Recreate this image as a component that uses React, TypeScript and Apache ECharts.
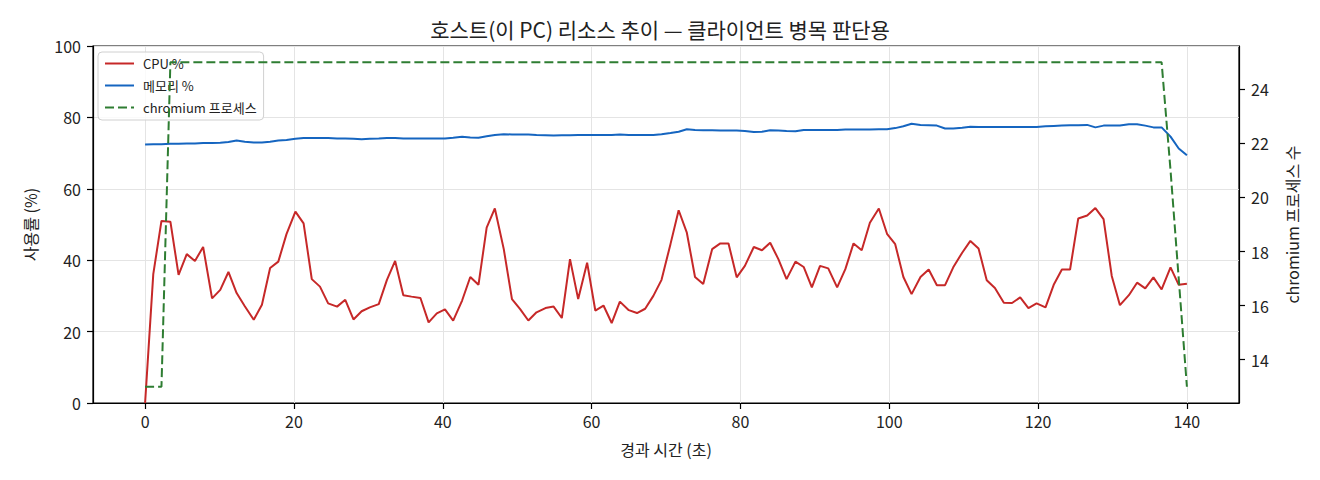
import React, { useEffect, useRef } from "react";
import * as echarts from "echarts";

const FONT = '"Noto Sans CJK KR", "Noto Sans", sans-serif';

// 경과 시간 (초) - 샘플 시각
const elapsed = [
  0, 1.1, 2.2, 3.4, 4.5, 5.6, 6.7, 7.8, 9.0, 10.1,
  11.2, 12.3, 13.4, 14.6, 15.7, 16.8, 17.9, 19.0, 20.2, 21.3,
  22.4, 23.5, 24.6, 25.8, 26.9, 28.0, 29.1, 30.2, 31.4, 32.5,
  33.6, 34.7, 35.8, 37.0, 38.1, 39.2, 40.3, 41.4, 42.6, 43.7,
  44.8, 45.9, 47.0, 48.2, 49.3, 50.4, 51.5, 52.6, 53.8, 54.9,
  56.0, 57.1, 58.2, 59.4, 60.5, 61.6, 62.7, 63.8, 65.0, 66.1,
  67.2, 68.3, 69.4, 70.6, 71.7, 72.8, 73.9, 75.0, 76.2, 77.3,
  78.4, 79.5, 80.6, 81.8, 82.9, 84.0, 85.1, 86.2, 87.4, 88.5,
  89.6, 90.7, 91.8, 93.0, 94.1, 95.2, 96.3, 97.4, 98.6, 99.7,
  100.8, 101.9, 103.0, 104.2, 105.3, 106.4, 107.5, 108.6, 109.8, 110.9,
  112.0, 113.1, 114.2, 115.4, 116.5, 117.6, 118.7, 119.8, 121.0, 122.1,
  123.2, 124.3, 125.4, 126.6, 127.7, 128.8, 129.9, 131.0, 132.2, 133.3,
  134.4, 135.5, 136.6, 137.8, 138.9, 140.0,
];

const cpuPct = [
  0, 36.1, 51.0, 50.8, 35.9, 41.7, 39.8, 43.7, 29.3, 31.7,
  36.7, 30.8, 27.1, 23.3, 27.5, 37.8, 39.6, 47.3, 53.6, 50.3,
  34.7, 32.6, 27.9, 27.0, 28.9, 23.4, 25.7, 26.8, 27.7, 34.5,
  39.8, 30.2, 29.8, 29.4, 22.6, 25.1, 26.2, 23.1, 28.7, 35.3,
  33.1, 49.1, 54.5, 43.1, 29.1, 26.3, 23.1, 25.4, 26.6, 27.0,
  23.8, 40.3, 29.1, 39.3, 25.9, 27.3, 22.4, 28.4, 26.0, 25.2,
  26.4, 30.0, 34.5, 44.5, 54.0, 47.7, 35.3, 33.3, 43.1, 44.7,
  44.7, 35.2, 38.4, 43.7, 42.8, 44.9, 40.3, 34.7, 39.6, 38.1,
  32.4, 38.4, 37.7, 32.4, 37.5, 44.7, 42.8, 50.5, 54.5, 47.4,
  44.5, 35.3, 30.5, 35.3, 37.4, 33.0, 33.0, 38.0, 42.1, 45.4,
  43.3, 34.4, 32.2, 28.1, 28.0, 29.6, 26.6, 27.9, 26.8, 33.1,
  37.4, 37.4, 51.7, 52.5, 54.6, 51.5, 35.6, 27.4, 30.2, 33.7,
  32.1, 35.2, 31.8, 38.0, 33.1, 33.4,
];

const memPct = [
  72.4, 72.5, 72.5, 72.6, 72.6, 72.7, 72.7, 72.8, 72.8, 72.9,
  73.1, 73.5, 73.2, 73.0, 73.0, 73.2, 73.5, 73.7, 74.0, 74.2,
  74.2, 74.2, 74.2, 74.1, 74.1, 74.0, 73.9, 74.0, 74.1, 74.2,
  74.2, 74.1, 74.1, 74.1, 74.1, 74.1, 74.1, 74.3, 74.6, 74.4,
  74.3, 74.7, 75.1, 75.3, 75.2, 75.2, 75.2, 75.1, 75.0, 74.9,
  75.0, 75.0, 75.1, 75.1, 75.1, 75.1, 75.1, 75.2, 75.1, 75.1,
  75.1, 75.1, 75.3, 75.6, 76.0, 76.7, 76.5, 76.4, 76.4, 76.3,
  76.3, 76.3, 76.2, 75.9, 76.0, 76.4, 76.3, 76.2, 76.1, 76.5,
  76.5, 76.5, 76.5, 76.5, 76.6, 76.6, 76.6, 76.6, 76.7, 76.7,
  77.0, 77.5, 78.2, 77.9, 77.8, 77.7, 76.9, 76.9, 77.1, 77.4,
  77.3, 77.3, 77.3, 77.3, 77.3, 77.3, 77.3, 77.3, 77.5, 77.6,
  77.7, 77.8, 77.8, 77.9, 77.2, 77.7, 77.7, 77.7, 78.1, 78.1,
  77.7, 77.2, 77.2, 74.6, 71.3, 69.4,
];

const chromiumCount = [
  13, 13, 13, 25, 25, 25, 25, 25, 25, 25,
  25, 25, 25, 25, 25, 25, 25, 25, 25, 25,
  25, 25, 25, 25, 25, 25, 25, 25, 25, 25,
  25, 25, 25, 25, 25, 25, 25, 25, 25, 25,
  25, 25, 25, 25, 25, 25, 25, 25, 25, 25,
  25, 25, 25, 25, 25, 25, 25, 25, 25, 25,
  25, 25, 25, 25, 25, 25, 25, 25, 25, 25,
  25, 25, 25, 25, 25, 25, 25, 25, 25, 25,
  25, 25, 25, 25, 25, 25, 25, 25, 25, 25,
  25, 25, 25, 25, 25, 25, 25, 25, 25, 25,
  25, 25, 25, 25, 25, 25, 25, 25, 25, 25,
  25, 25, 25, 25, 25, 25, 25, 25, 25, 25,
  25, 25, 25, 21, 17, 13,
];

const timeTicks = [0, 20, 40, 60, 80, 100, 120, 140];
const countTicks = [14, 16, 18, 20, 22, 24];

const pairs = (ys: number[]) => elapsed.map((t, i) => [t, ys[i]]);

export default function App() {
  const chartRef = useRef<HTMLDivElement>(null);

  useEffect(() => {
    if (!chartRef.current) return;
    const chart = echarts.init(chartRef.current, undefined, { renderer: "svg" });

    const ink = "#222";
    const spine = { show: true, onZero: false, lineStyle: { color: "#000", width: 1.2 } };
    const tick = { show: true, length: 6, lineStyle: { color: "#000", width: 1.2 } };
    const grid = { show: true, lineStyle: { color: "#e4e4e4", width: 1 } };
    const label = { color: ink, fontSize: 16, fontFamily: FONT };

    chart.setOption({
      animation: false,
      backgroundColor: "#fff",
      textStyle: { fontFamily: FONT },
      title: {
        text: "호스트(이 PC) 리소스 추이 — 클라이언트 병목 판단용",
        left: "center",
        top: 18,
        padding: 0,
        textStyle: { fontSize: 21, fontWeight: "normal", color: ink, fontFamily: FONT },
      },
      legend: {
        data: ["CPU %", "메모리 %", "chromium 프로세스"],
        orient: "vertical",
        left: 98,
        top: 52,
        z: 1,
        itemWidth: 29,
        itemHeight: 14,
        itemGap: 9,
        padding: [5, 7, 6, 6],
        backgroundColor: "rgba(255,255,255,0.8)",
        borderColor: "#d0d0d0",
        borderWidth: 1,
        borderRadius: 4,
        selectedMode: false,
        itemStyle: { opacity: 0 },
        textStyle: { fontSize: 13, color: ink, fontFamily: FONT, padding: [0, 0, 0, 4] },
      },
      grid: {
        left: 93,
        right: 81,
        top: 46,
        bottom: 77,
        show: true,
        borderColor: "#000",
        borderWidth: 1.2,
      },
      xAxis: {
        type: "value",
        min: -7,
        max: 147,
        axisLine: spine,
        axisTick: { ...tick, customValues: timeTicks },
        axisLabel: { ...label, margin: 10, customValues: timeTicks },
        splitLine: grid,
        name: "경과 시간 (초)",
        nameLocation: "middle",
        nameGap: 38,
        nameTextStyle: { fontSize: 16, color: ink, fontFamily: FONT },
      },
      yAxis: [
        {
          type: "value",
          position: "left",
          min: 0,
          max: 100,
          interval: 20,
          axisLine: spine,
          axisTick: tick,
          axisLabel: { ...label, margin: 12 },
          splitLine: grid,
          name: "사용률 (%)",
          nameLocation: "middle",
          nameRotate: 90,
          nameGap: 55,
          nameTextStyle: { fontSize: 16, color: ink, fontFamily: FONT },
        },
        {
          type: "value",
          position: "right",
          min: 12.4,
          max: 25.6,
          axisLine: spine,
          axisTick: { ...tick, customValues: countTicks },
          axisLabel: { ...label, margin: 12, customValues: countTicks },
          splitLine: { show: false },
          name: "chromium 프로세스 수",
          nameLocation: "middle",
          nameRotate: 90,
          nameGap: 45,
          nameTextStyle: { fontSize: 16, color: ink, fontFamily: FONT },
        },
      ],
      series: [
        {
          name: "CPU %",
          type: "line",
          data: pairs(cpuPct),
          symbol: "none",
          showSymbol: false,
          lineStyle: { color: "#c62828", width: 2 },
          itemStyle: { color: "#c62828" },
        },
        {
          name: "메모리 %",
          type: "line",
          data: pairs(memPct),
          symbol: "none",
          showSymbol: false,
          lineStyle: { color: "#1565c0", width: 2 },
          itemStyle: { color: "#1565c0" },
        },
        {
          name: "chromium 프로세스",
          type: "line",
          yAxisIndex: 1,
          data: pairs(chromiumCount),
          symbol: "none",
          showSymbol: false,
          lineStyle: { color: "#2e7d32", width: 2, type: [9, 4] },
          itemStyle: { color: "#2e7d32" },
        },
      ],
    });

    return () => chart.dispose();
  }, []);

  return (
    <div
      ref={chartRef}
      style={{ position: "absolute", left: 0, top: 0, width: 1320, height: 480 }}
    />
  );
}
